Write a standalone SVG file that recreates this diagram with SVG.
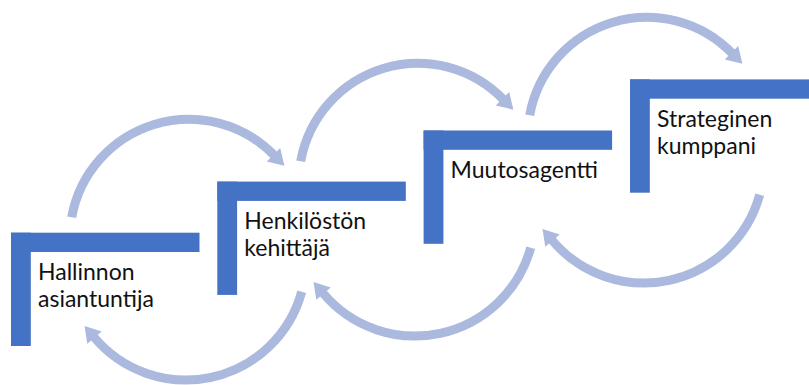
<svg xmlns="http://www.w3.org/2000/svg" width="809" height="385" viewBox="0 0 809 385">
  <style>
    .arc { fill: none; stroke: #ABB9DE; stroke-width: 9; }
    .head { fill: #ABB9DE; }
    .bar { fill: #4472C4; }
    .lbl { font-family: Lato, "Liberation Sans", sans-serif; font-size: 23px; fill: #111; }
  </style>
  <rect width="809" height="385" fill="#fff"/>
  <g id="connectors">
    <g transform="translate(0,0)">
      <path class="arc" d="M 71.7 217.3 A 119 119 0 0 1 274.5 155.7"/>
      <polygon class="head" points="280.2,148.0 284.4,165.7 266.8,161.4"/>
    </g>
    <g transform="translate(229,-56)">
      <path class="arc" d="M 71.7 217.3 A 119 119 0 0 1 274.5 155.7"/>
      <polygon class="head" points="280.2,148.0 284.4,165.7 266.8,161.4"/>
    </g>
    <g transform="translate(458,-102)">
      <path class="arc" d="M 71.7 217.3 A 119 119 0 0 1 274.5 155.7"/>
      <polygon class="head" points="280.2,148.0 284.4,165.7 266.8,161.4"/>
    </g>
    <g transform="translate(0,0)">
      <path class="arc" d="M 301.7 291.7 A 120 120 0 0 1 93.5 336.5"/>
      <polygon class="head" points="87.3,343.8 84.5,325.9 101.7,331.6"/>
    </g>
    <g transform="translate(229,-44)">
      <path class="arc" d="M 301.7 291.7 A 120 120 0 0 1 93.5 336.5"/>
      <polygon class="head" points="87.3,343.8 84.5,325.9 101.7,331.6"/>
    </g>
    <g transform="translate(458,-97)">
      <path class="arc" d="M 301.7 291.7 A 120 120 0 0 1 93.5 336.5"/>
      <polygon class="head" points="87.3,343.8 84.5,325.9 101.7,331.6"/>
    </g>
  </g>
  <g id="node1" transform="translate(11,232.7)">
    <rect class="bar" x="0" y="0" width="188.5" height="19.3"/>
    <rect class="bar" x="0" y="0" width="19.8" height="113.3"/>
    <text class="lbl" x="27" y="47.3">Hallinnon</text>
    <text class="lbl" x="27" y="74.3">asiantuntija</text>
  </g>
  <g id="node2" transform="translate(217.3,181.6)">
    <rect class="bar" x="0" y="0" width="188.5" height="19.3"/>
    <rect class="bar" x="0" y="0" width="19.8" height="113.3"/>
    <text class="lbl" x="27" y="47.3">Henkilöstön</text>
    <text class="lbl" x="27" y="74.3">kehittäjä</text>
  </g>
  <g id="node3" transform="translate(423.6,130.5)">
    <rect class="bar" x="0" y="0" width="188.5" height="19.3"/>
    <rect class="bar" x="0" y="0" width="19.8" height="113.3"/>
    <text class="lbl" x="27" y="47">Muutosagentti</text>
  </g>
  <g id="node4" transform="translate(630,79.4)">
    <rect class="bar" x="0" y="0" width="188.5" height="19.3"/>
    <rect class="bar" x="0" y="0" width="19.8" height="113.3"/>
    <text class="lbl" x="27" y="47.3">Strateginen</text>
    <text class="lbl" x="27" y="74.3">kumppani</text>
  </g>
</svg>
